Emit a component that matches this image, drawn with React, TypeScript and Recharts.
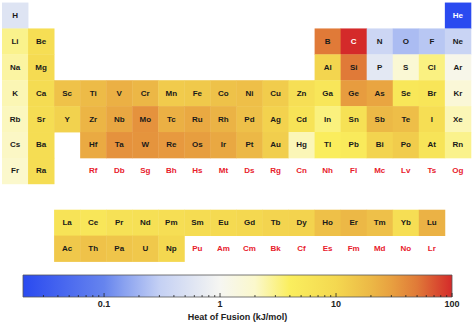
import React from "react";
import {
  ScatterChart,
  Scatter,
  XAxis,
  YAxis,
  ReferenceArea,
} from "recharts";

// element symbols in atomic-number order
const SYMBOLS = [
  "H", "He", "Li", "Be", "B", "C", "N", "O", "F", "Ne",
  "Na", "Mg", "Al", "Si", "P", "S", "Cl", "Ar", "K", "Ca",
  "Sc", "Ti", "V", "Cr", "Mn", "Fe", "Co", "Ni", "Cu", "Zn",
  "Ga", "Ge", "As", "Se", "Br", "Kr", "Rb", "Sr", "Y", "Zr",
  "Nb", "Mo", "Tc", "Ru", "Rh", "Pd", "Ag", "Cd", "In", "Sn",
  "Sb", "Te", "I", "Xe", "Cs", "Ba", "La", "Ce", "Pr", "Nd",
  "Pm", "Sm", "Eu", "Gd", "Tb", "Dy", "Ho", "Er", "Tm", "Yb",
  "Lu", "Hf", "Ta", "W", "Re", "Os", "Ir", "Pt", "Au", "Hg",
  "Tl", "Pb", "Bi", "Po", "At", "Rn", "Fr", "Ra", "Ac", "Th",
  "Pa", "U", "Np", "Pu", "Am", "Cm", "Bk", "Cf", "Es", "Fm",
  "Md", "No", "Lr", "Rf", "Db", "Sg", "Bh", "Hs", "Mt", "Ds",
  "Rg", "Cn", "Nh", "Fl", "Mc", "Lv", "Ts", "Og",
];

// heat of fusion, kJ/mol (null = no data)
const FUSION_HEAT: (number | null)[] = [
  0.558, 0.02, 3, 7.95, 50, 105, 0.36, 0.222, 0.26, 0.34,
  2.6, 8.7, 10.7, 50.2, 0.64, 1.73, 3.2, 1.18, 2.33, 8.54,
  16, 18.7, 22.8, 20.5, 13.2, 13.8, 16.2, 17.2, 13.1, 7.35,
  5.59, 31.8, 27.7, 5.4, 5.8, 1.64, 2.19, 8, 11.4, 21,
  26.8, 36, 23, 25.7, 21.7, 16.7, 11.3, 6.3, 3.26, 7,
  19.7, 17.5, 7.76, 2.3, 2.09, 8, 6.2, 5.5, 6.9, 7.1,
  7.7, 8.6, 9.2, 10, 10.8, 11.1, 17, 19.9, 16.8, 7.7,
  22, 25.5, 36, 35.3, 33, 31, 26, 20, 12.5, 2.29,
  4.2, 4.77, 10.9, 13, 6, 3, 2, 8, 14, 16,
  15, 14, 10, null, null, null, null, null, null, null,
  null, null, null, null, null, null, null, null, null, null,
  null, null, null, null, null, null, null, null,
];

const SCALE_MIN = 0.02;
const SCALE_MAX = 100;
const COLORBAR_TICKS = [
  0.03, 0.04, 0.05, 0.06, 0.07, 0.08, 0.09,
  0.1, 0.2, 0.3, 0.4, 0.5, 0.6, 0.7, 0.8, 0.9,
  1, 2, 3, 4, 5, 6, 7, 8, 9,
  10, 20, 30, 40, 50, 60, 70, 80, 90, 100,
];

// colour map stops (value, colour)
const COLOR_STOPS: [number, string][] = [
  [0.02, "#2a4af0"],
  [0.1, "#6684ee"],
  [0.15, "#8aa2f0"],
  [0.3, "#c4d0f4"],
  [1, "#f6f6f2"],
  [2, "#fbf8cc"],
  [4, "#faee5e"],
  [10, "#f4d850"],
  [20, "#ecb846"],
  [30, "#e8a040"],
  [50, "#e07a38"],
  [100, "#d42a2a"],
];

const FONT = "'Liberation Sans', Arial, Helvetica, sans-serif";
const W = 474;
const TABLE_H = 265;
const TABLE_MARGIN = { top: 2.55, right: 3.1, bottom: 3.5, left: 2 };
const CELL_W = (W - TABLE_MARGIN.left - TABLE_MARGIN.right) / 18;
const CELL_H = (TABLE_H - TABLE_MARGIN.top - TABLE_MARGIN.bottom) / 10;

const logT = (v: number) =>
  (Math.log10(v) - Math.log10(SCALE_MIN)) /
  (Math.log10(SCALE_MAX) - Math.log10(SCALE_MIN));

const hex = (c: string) => [
  parseInt(c.slice(1, 3), 16),
  parseInt(c.slice(3, 5), 16),
  parseInt(c.slice(5, 7), 16),
];

function colorFor(v: number) {
  const t = Math.min(1, Math.max(0, logT(v)));
  for (let i = 1; i < COLOR_STOPS.length; i++) {
    const t0 = logT(COLOR_STOPS[i - 1][0]);
    const t1 = logT(COLOR_STOPS[i][0]);
    if (t <= t1 || i === COLOR_STOPS.length - 1) {
      const f = Math.min(1, Math.max(0, (t - t0) / (t1 - t0)));
      const a = hex(COLOR_STOPS[i - 1][1]);
      const b = hex(COLOR_STOPS[i][1]);
      const m = a.map((x, k) => Math.round(x + (b[k] - x) * f));
      return `rgb(${m[0]},${m[1]},${m[2]})`;
    }
  }
  return COLOR_STOPS[0][1];
}

// table position from atomic number
function position(z: number) {
  if (z >= 57 && z <= 71) return { col: 3 + z - 57, row: 9 };
  if (z >= 89 && z <= 103) return { col: 3 + z - 89, row: 10 };
  if (z === 1) return { col: 1, row: 1 };
  if (z === 2) return { col: 18, row: 1 };
  const starts = [3, 11, 19, 37, 55, 87];
  let p = 0;
  for (let i = 0; i < starts.length; i++) if (z >= starts[i]) p = i;
  const row = p + 2;
  const k = z - starts[p];
  if (row <= 3) return { col: k < 2 ? k + 1 : k + 11, row };
  if (row <= 5) return { col: k + 1, row };
  if (k < 2) return { col: k + 1, row };
  return { col: z - (row === 6 ? 72 : 104) + 4, row };
}

const cells = SYMBOLS.map((symbol, i) => ({
  symbol,
  value: FUSION_HEAT[i],
  ...position(i + 1),
}));

function ElementCell(props: any) {
  const { cx, cy, payload } = props;
  const v = payload.value;
  if (v == null) {
    return (
      <text
        x={cx}
        y={cy}
        textAnchor="middle"
        dominantBaseline="central"
        fontFamily={FONT}
        fontSize={8}
        fontWeight="bold"
        fill="#e8202c"
      >
        {payload.symbol}
      </text>
    );
  }
  const light = v < 0.05 || v > 80;
  return (
    <g>
      <rect
        x={cx - CELL_W / 2}
        y={cy - CELL_H / 2}
        width={CELL_W + 0.4}
        height={CELL_H + 0.4}
        fill={colorFor(v)}
      />
      <text
        x={cx}
        y={cy}
        textAnchor="middle"
        dominantBaseline="central"
        fontFamily={FONT}
        fontSize={8}
        fontWeight="bold"
        fill={light ? "#ffffff" : "#1a1a1a"}
      >
        {payload.symbol}
      </text>
    </g>
  );
}

function ColorbarTick(props: any) {
  const { x, y, payload } = props;
  const v = payload.value;
  const lg = Math.log10(v);
  const major = Math.abs(lg - Math.round(lg)) < 1e-6;
  return (
    <g>
      <line
        x1={x}
        x2={x}
        y1={y}
        y2={y - (major ? 4 : 2)}
        stroke="#222"
        strokeWidth={0.8}
      />
      {major && (
        <text
          x={x}
          y={y + 7}
          textAnchor="middle"
          dominantBaseline="central"
          fontFamily={FONT}
          fontSize={9}
          fontWeight="bold"
          fill="#222"
        >
          {String(v)}
        </text>
      )}
    </g>
  );
}

export default function App() {
  const barData = COLORBAR_TICKS.map((v) => ({ v, y: 0 }));
  return (
    <div style={{ position: "absolute", left: 0, top: 0, width: W, height: 325, background: "#fff" }}>
      <div style={{ position: "absolute", left: 0, top: 0 }}>
        <ScatterChart width={W} height={TABLE_H} margin={TABLE_MARGIN}>
          <XAxis type="number" dataKey="col" domain={[0.5, 18.5]} hide />
          <YAxis type="number" dataKey="row" domain={[0.5, 10.5]} reversed hide />
          <Scatter data={cells} shape={ElementCell} isAnimationActive={false} />
        </ScatterChart>
      </div>
      <div style={{ position: "absolute", left: 0, top: 262 }}>
        <ScatterChart width={W} height={63} margin={{ top: 13, right: 22, bottom: 0, left: 23 }}>
          <defs>
            <linearGradient id="fusionGrad" x1="0" y1="0" x2="1" y2="0">
              {COLOR_STOPS.map(([v, c]) => (
                <stop key={v} offset={logT(v)} stopColor={c} />
              ))}
            </linearGradient>
          </defs>
          <XAxis
            type="number"
            dataKey="v"
            scale="log"
            domain={[SCALE_MIN, SCALE_MAX]}
            ticks={COLORBAR_TICKS}
            interval={0}
            height={28}
            tickSize={0}
            tickMargin={0}
            tickLine={false}
            axisLine={false}
            tick={ColorbarTick}
            allowDataOverflow
            label={{
              value: "Heat of Fusion (kJ/mol)",
              position: "insideBottom",
              offset: 5,
              style: { fontFamily: FONT, fontSize: 9, fontWeight: "bold", fill: "#222" },
            }}
          />
          <YAxis type="number" dataKey="y" domain={[0, 1]} hide />
          <ReferenceArea
            x1={SCALE_MIN}
            x2={SCALE_MAX}
            y1={0}
            y2={1}
            fill="url(#fusionGrad)"
            fillOpacity={1}
            stroke="#555"
            strokeWidth={0.8}
          />
          <Scatter data={barData} shape={() => <g />} isAnimationActive={false} />
        </ScatterChart>
      </div>
    </div>
  );
}
